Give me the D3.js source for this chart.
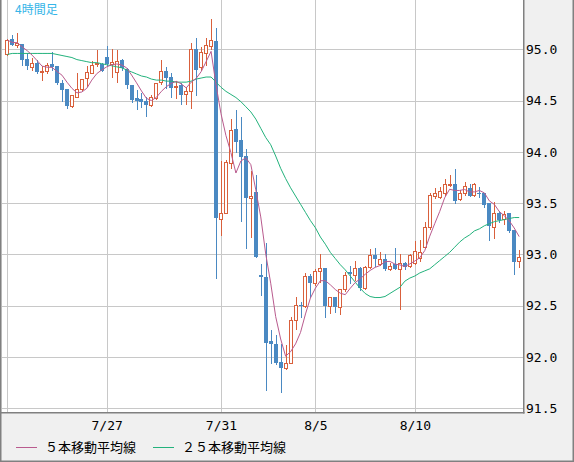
<!DOCTYPE html>
<meta charset="utf-8">
<style>
    body { margin: 0; background: #f0f0f0; }
    .axis text { font: 13px "DejaVu Sans Mono", monospace; fill: #000; }
    .grid line { stroke: #c8c8c8; stroke-width: 1; shape-rendering: crispEdges; }
    .legend text { font: 13px "Noto Sans CJK JP", sans-serif; fill: #000; }
</style>
<body>
<script src="https://d3js.org/d3.v7.min.js"></script>
<script>

// 4-hour candles, USD/JPY
const open = [94.95,95.10,95.04,95.05,94.91,94.83,94.87,94.78,94.79,94.86,
    94.84,94.67,94.61,94.45,94.54,94.61,94.72,94.77,94.855,94.86,
    94.93,94.86,94.78,94.90,94.81,94.65,94.525,94.52,94.50,94.46,
    94.53,94.68,94.79,94.73,94.63,94.65,94.56,94.59,95.00,94.83,
    94.96,95.03,95.08,93.35,93.40,93.89,94.22,94.12,93.96,93.55,
    93.61,92.80,92.78,92.16,92.13,91.95,91.89,91.94,92.36,92.51,
    92.50,92.79,92.72,92.84,92.87,92.50,92.59,92.49,92.66,92.83,
    92.80,92.87,92.67,92.88,92.99,92.91,92.96,92.86,92.91,92.86,
    92.92,92.89,92.92,92.97,93.07,93.27,93.57,93.56,93.60,93.68,
    93.69,93.54,93.60,93.65,93.58,93.60,93.60,93.50,93.27,93.40,
    93.35,93.40,93.24,92.94];

const high = [95.10,95.14,95.16,95.05,94.96,94.92,94.90,94.84,94.87,94.97,
    94.84,94.70,94.61,94.55,94.77,94.71,94.84,94.89,94.99,94.87,
    95.03,95.00,94.99,94.91,94.82,94.65,94.60,94.57,94.54,94.55,
    94.67,94.90,94.83,94.77,94.69,94.67,94.63,95.06,95.11,95.02,
    95.11,95.30,95.21,93.91,93.92,94.32,94.41,94.34,94.03,93.81,
    93.77,92.91,93.11,92.26,92.21,92.13,92.12,92.39,92.59,92.54,
    92.82,92.81,92.86,93.00,92.87,92.59,92.59,92.66,92.83,92.89,
    92.94,92.88,92.89,93.05,93.06,93.02,93.00,92.92,93.06,93.00,
    92.93,93.00,93.13,93.14,93.32,93.60,93.65,93.66,93.74,93.77,
    93.83,93.63,93.71,93.69,93.70,93.66,93.60,93.50,93.51,93.42,
    93.42,93.40,93.24,93.04];

const low = [94.94,95.04,95.025,94.85,94.81,94.80,94.77,94.70,94.77,94.80,
    94.66,94.50,94.43,94.44,94.54,94.60,94.64,94.77,94.84,94.79,
    94.84,94.73,94.68,94.80,94.62,94.49,94.42,94.44,94.35,94.45,
    94.52,94.66,94.62,94.54,94.53,94.47,94.47,94.43,94.55,94.80,
    94.85,95.00,92.77,93.19,93.40,93.84,94.00,93.33,93.06,93.17,
    92.98,92.60,91.68,91.94,91.93,91.66,91.88,91.94,92.27,92.39,
    92.49,92.59,92.70,92.73,92.39,92.43,92.44,92.42,92.64,92.72,
    92.75,92.65,92.66,92.87,92.89,92.90,92.85,92.85,92.86,92.47,
    92.86,92.88,92.91,92.94,93.06,93.25,93.55,93.55,93.58,93.67,
    93.50,93.53,93.58,93.57,93.57,93.56,93.46,93.14,93.16,93.32,
    93.30,93.22,92.81,92.88];

const close = [95.09,95.045,95.06,94.90,94.84,94.87,94.78,94.79,94.85,94.83,
    94.67,94.60,94.45,94.55,94.61,94.71,94.78,94.85,94.865,94.79,
    94.86,94.88,94.89,94.82,94.65,94.51,94.50,94.49,94.46,94.54,
    94.67,94.79,94.72,94.62,94.64,94.55,94.59,95.00,94.80,94.97,
    95.04,95.09,93.36,93.40,93.90,94.21,94.10,93.95,93.55,93.57,
    92.98,92.78,92.14,92.13,91.94,91.89,91.94,92.36,92.51,92.50,
    92.79,92.72,92.84,92.87,92.50,92.59,92.49,92.66,92.80,92.81,
    92.87,92.67,92.88,92.99,92.96,92.96,92.86,92.89,92.86,92.92,
    92.88,92.99,93.03,93.02,93.27,93.58,93.60,93.62,93.69,93.69,
    93.52,93.60,93.67,93.57,93.69,93.59,93.48,93.28,93.40,93.34,
    93.39,93.23,92.93,92.98];

// 25-bar average (its history lies left of the chart)
const ma25 = [94.95,94.96,94.96,94.96,94.96,94.96,94.96,94.96,94.96,94.96,
    94.95,94.94,94.93,94.92,94.90,94.89,94.88,94.87,94.87,94.86,
    94.85,94.84,94.83,94.82,94.80,94.78,94.76,94.74,94.73,94.71,
    94.70,94.70,94.69,94.69,94.68,94.68,94.68,94.69,94.71,94.72,
    94.73,94.73,94.68,94.63,94.59,94.56,94.53,94.49,94.44,94.39,
    94.32,94.23,94.14,94.07,93.96,93.84,93.74,93.65,93.57,93.49,
    93.41,93.33,93.26,93.17,93.10,93.02,92.96,92.90,92.85,92.79,
    92.73,92.67,92.62,92.59,92.58,92.58,92.59,92.62,92.65,92.68,
    92.74,92.77,92.79,92.82,92.84,92.86,92.90,92.94,92.98,93.02,
    93.07,93.12,93.16,93.19,93.23,93.25,93.28,93.30,93.32,93.33,
    93.34,93.35,93.36,93.36];

const priceTicks = [91.5, 92.0, 92.5, 93.0, 93.5, 94.0, 94.5, 95.0];
const dateTickIndex = [0, 20, 43, 62, 82];
const dateTickLabels = ["", "7/27", "7/31", "8/5", "8/10"];

const seriesNames = ["５本移動平均線", "２５本移動平均線"];

// 5-bar average of the closes (shorter window at the very start)
const ma5 = close.map((c, i) => d3.mean(close.slice(Math.max(0, i - 4), i + 1)));

const width = 574;
const height = 462;
const plotLeft = 2, plotRight = 523, plotBottom = 412;

const upColor = "#d9603c";
const downColor = "#4a89c2";

const x = d3.scaleLinear()
    .domain([0, close.length - 1])
    .range([7.3, 519.2]);

const y = d3.scaleLinear()
    .domain([91.464, 95.481])
    .range([plotBottom, 0]);

const svg = d3.select("body").append("svg")
    .attr("width", width)
    .attr("height", height);

svg.append("rect")
    .attr("width", width)
    .attr("height", height)
    .attr("fill", "#f0f0f0");

svg.append("rect")
    .attr("x", plotLeft)
    .attr("y", 0)
    .attr("width", plotRight - plotLeft)
    .attr("height", plotBottom)
    .attr("fill", "#fff");

svg.append("clipPath").attr("id", "plotclip")
    .append("rect")
    .attr("x", plotLeft)
    .attr("y", 0)
    .attr("width", plotRight - plotLeft)
    .attr("height", plotBottom);

// grid
const grid = svg.append("g").attr("class", "grid");

grid.selectAll(".hgrid")
    .data(priceTicks)
    .enter().append("line")
    .attr("x1", plotLeft)
    .attr("x2", plotRight)
    .attr("y1", d => Math.round(y(d)) + 0.5)
    .attr("y2", d => Math.round(y(d)) + 0.5);

grid.selectAll(".vgrid")
    .data(dateTickIndex)
    .enter().append("line")
    .attr("x1", d => Math.round(x(d)) + 0.5)
    .attr("x2", d => Math.round(x(d)) + 0.5)
    .attr("y1", 0)
    .attr("y2", plotBottom);

// candles
const plotArea = svg.append("g").attr("clip-path", "url(#plotclip)");

const candles = plotArea.selectAll(".candle")
    .data(close.map((c, i) => ({ i, o: open[i], h: high[i], l: low[i], c })))
    .enter().append("g")
    .attr("class", "candle");

candles.append("line")
    .attr("x1", d => Math.round(x(d.i)) + 0.5)
    .attr("x2", d => Math.round(x(d.i)) + 0.5)
    .attr("y1", d => Math.round(y(d.h)))
    .attr("y2", d => Math.round(y(d.l)) + 1)
    .attr("stroke", d => d.c >= d.o ? upColor : downColor)
    .attr("stroke-width", 1);

candles.each(function(d) {
    const cx = Math.round(x(d.i));
    const top = Math.round(y(Math.max(d.o, d.c)));
    const bottom = Math.round(y(Math.min(d.o, d.c)));
    const g = d3.select(this);
    if (d.c >= d.o) {
        g.append("rect")
            .attr("x", cx - 1.5)
            .attr("y", top + 0.5)
            .attr("width", 3)
            .attr("height", Math.max(bottom - top, 1))
            .attr("fill", "#fff")
            .attr("stroke", upColor)
            .attr("stroke-width", 1);
    } else {
        g.append("rect")
            .attr("x", cx - 2)
            .attr("y", top)
            .attr("width", 4)
            .attr("height", Math.max(bottom - top, 1))
            .attr("fill", downColor);
    }
});

// moving averages
const line = d3.line()
    .x((d, i) => x(i))
    .y(d => y(d));

plotArea.append("path")
    .datum(ma25)
    .attr("fill", "none")
    .attr("stroke", "#23b27c")
    .attr("stroke-width", 1)
    .attr("d", line);

plotArea.append("path")
    .datum(ma5)
    .attr("fill", "none")
    .attr("stroke", "#b95b8e")
    .attr("stroke-width", 1)
    .attr("d", line);

// borders
svg.append("line")
    .attr("x1", plotRight + 0.75).attr("x2", plotRight + 0.75)
    .attr("y1", 0).attr("y2", plotBottom + 1.5)
    .attr("stroke", "#808080").attr("stroke-width", 1.5);

svg.append("line")
    .attr("x1", 0).attr("x2", plotRight + 1.5)
    .attr("y1", plotBottom + 0.75).attr("y2", plotBottom + 0.75)
    .attr("stroke", "#808080").attr("stroke-width", 1.5);

svg.append("rect")
    .attr("x", 0.75).attr("y", -2)
    .attr("width", width - 1.5).attr("height", height + 1.25)
    .attr("fill", "none")
    .attr("stroke", "#808080").attr("stroke-width", 1.5);

// axes
const yAxis = svg.append("g")
    .attr("class", "axis")
    .attr("transform", `translate(${plotRight},0)`)
    .call(d3.axisRight(y)
        .tickValues(priceTicks)
        .tickSize(0)
        .tickPadding(3)
        .tickFormat(d3.format(".1f")));
yAxis.select(".domain").remove();

const xAxis = svg.append("g")
    .attr("class", "axis")
    .attr("transform", `translate(0,${plotBottom})`)
    .call(d3.axisBottom(x)
        .tickValues(dateTickIndex)
        .tickSize(0)
        .tickPadding(9)
        .tickFormat((d, i) => dateTickLabels[i]));
xAxis.select(".domain").remove();

// timeframe label
svg.append("text")
    .attr("x", 15)
    .attr("y", 14)
    .attr("fill", "#35b5e8")
    .style("font", '12px "Noto Sans CJK JP", sans-serif')
    .text("4時間足");

// legend
const legend = svg.append("g").attr("class", "legend");
const legendColors = ["#b95b8e", "#23b27c"];
const legendX = [16, 153];

seriesNames.forEach((name, k) => {
    legend.append("line")
        .attr("x1", legendX[k]).attr("x2", legendX[k] + 21)
        .attr("y1", 447.5).attr("y2", 447.5)
        .attr("stroke", legendColors[k])
        .attr("stroke-width", 1);
    legend.append("text")
        .attr("x", legendX[k] + 29)
        .attr("y", 452)
        .text(name);
});

</script>
</body>
</html>
